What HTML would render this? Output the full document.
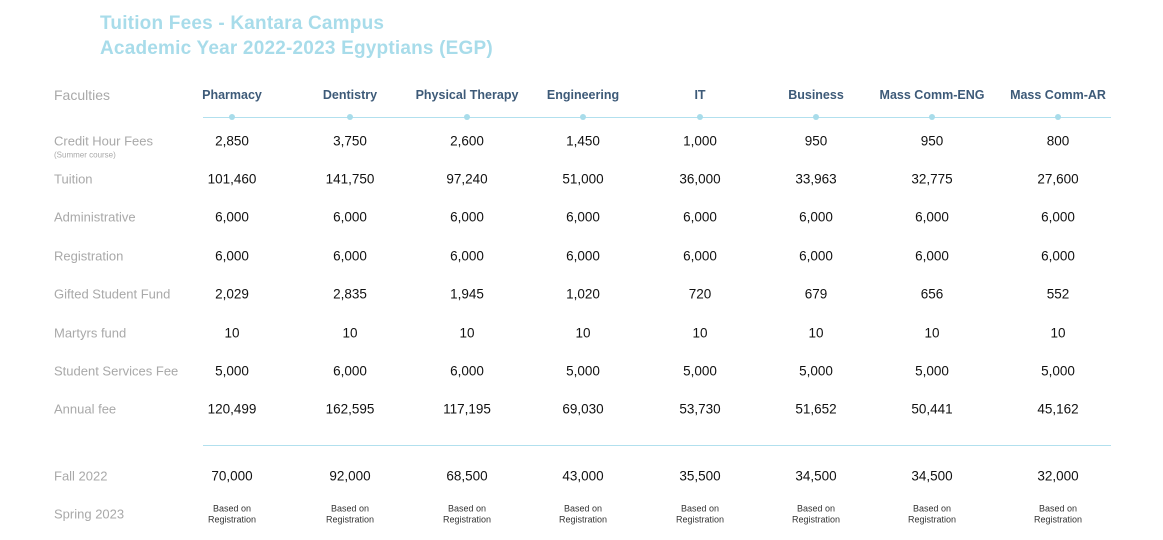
<!DOCTYPE html>
<html><head><meta charset="utf-8"><style>
body{margin:0;width:1163px;height:540px;background:#fff;position:relative;overflow:hidden;font-family:"Liberation Sans",sans-serif}
.t{position:absolute;left:100px;font-weight:bold;font-size:19px;color:#a8dcea;letter-spacing:0.2px;white-space:nowrap}
.l{position:absolute;left:54px;font-size:13px;color:#a9a9a9;transform:translateY(-50%);white-space:nowrap}
.c{position:absolute;transform:translate(-50%,-50%);white-space:nowrap;text-align:center}
.h{font-size:12.5px;font-weight:bold;color:#3d5a78}
.v{font-size:13.5px;color:#111}
.s{font-size:9px;color:#333;line-height:10.5px}
.line{position:absolute;height:1px;background:#b2e0ee;left:203px;width:908px}
.dot{position:absolute;width:6px;height:6px;border-radius:50%;background:#a8dcea;transform:translate(-50%,-50%);top:117px}
</style></head><body>
<div class="t" style="top:13px">Tuition Fees - Kantara Campus</div>
<div class="t" style="top:38px">Academic Year 2022-2023 Egyptians (EGP)</div>
<div class="line" style="top:117px"></div>
<div class="line" style="top:445px"></div>
<div id="g"></div>
<script>
var xs=[232,350,467,583,700,816,932,1058];
var heads=["Pharmacy","Dentistry","Physical Therapy","Engineering","IT","Business","Mass Comm-ENG","Mass Comm-AR"];
var rows=[
["Credit Hour Fees",141,["2,850","3,750","2,600","1,450","1,000","950","950","800"]],
["Tuition",179,["101,460","141,750","97,240","51,000","36,000","33,963","32,775","27,600"]],
["Administrative",217,Array(8).fill("6,000")],
["Registration",256,Array(8).fill("6,000")],
["Gifted Student Fund",294,["2,029","2,835","1,945","1,020","720","679","656","552"]],
["Martyrs fund",333,Array(8).fill("10")],
["Student Services Fee",371,["5,000","6,000","6,000","5,000","5,000","5,000","5,000","5,000"]],
["Annual fee",409,["120,499","162,595","117,195","69,030","53,730","51,652","50,441","45,162"]],
["Fall 2022",476,["70,000","92,000","68,500","43,000","35,500","34,500","34,500","32,000"]]
];
var h='<div class="l" style="top:95px;font-size:14px">Faculties</div>';
xs.forEach(function(x,i){h+='<div class="c h" style="left:'+x+'px;top:95px">'+heads[i]+'</div><div class="dot" style="left:'+x+'px"></div>';});
rows.forEach(function(r){
 h+='<div class="l" style="top:'+r[1]+'px">'+r[0]+'</div>';
 xs.forEach(function(x,i){h+='<div class="c v" style="left:'+x+'px;top:'+r[1]+'px">'+r[2][i]+'</div>';});
});
h+='<div class="l" style="top:155px;font-size:8px">(Summer course)</div>';
h+='<div class="l" style="top:514px">Spring 2023</div>';
xs.forEach(function(x){h+='<div class="c s" style="left:'+x+'px;top:514px">Based on<br>Registration</div>';});
document.getElementById('g').innerHTML=h;
</script>
</body></html>
